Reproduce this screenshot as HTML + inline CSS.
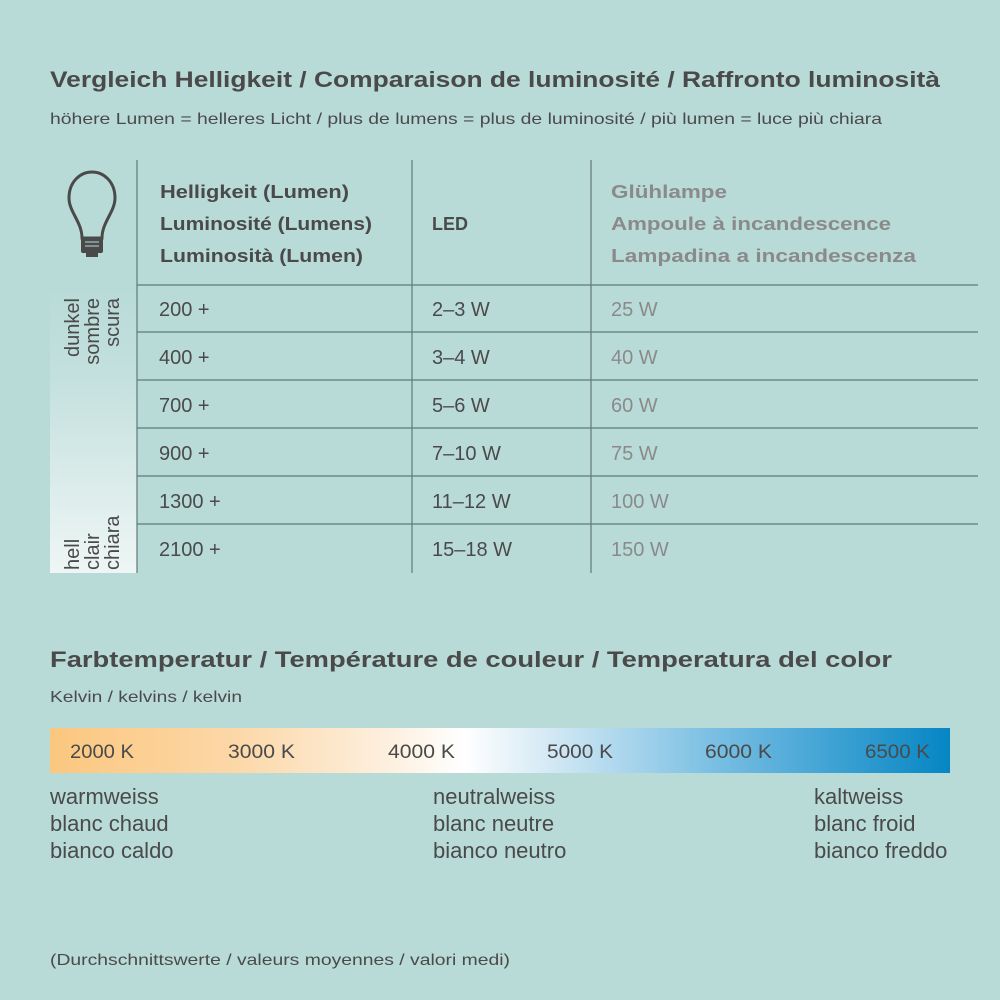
<!DOCTYPE html>
<html><head><meta charset="utf-8"><style>
html,body{margin:0;padding:0;background:#b9dbd8;}
svg{display:block;font-family:"Liberation Sans",sans-serif;}
</style></head><body>
<svg width="1000" height="1000" viewBox="0 0 1000 1000" xmlns="http://www.w3.org/2000/svg">
<defs>
<linearGradient id="lg" x1="0" y1="0" x2="0" y2="1">
<stop offset="0" stop-color="#b9dbd8"/><stop offset="0.3" stop-color="#c3e0dd"/><stop offset="1" stop-color="#eef6f5"/>
</linearGradient>
<linearGradient id="kg" x1="0" y1="0" x2="1" y2="0">
<stop offset="0" stop-color="#fbc77f"/><stop offset="0.2" stop-color="#fcd7a6"/><stop offset="0.38" stop-color="#fdf0e0"/><stop offset="0.46" stop-color="#ffffff"/><stop offset="0.55" stop-color="#d6eaf5"/><stop offset="0.75" stop-color="#74bce2"/><stop offset="1" stop-color="#0586c4"/>
</linearGradient>
</defs>
<rect width="1000" height="1000" fill="#b9dbd8"/>
<g fill="#4a4a4a">
<text x="50" y="87" font-size="22" font-weight="bold" textLength="890" lengthAdjust="spacingAndGlyphs">Vergleich Helligkeit / Comparaison de luminosité / Raffronto luminosità</text>
<text x="50" y="124" font-size="16" textLength="832" lengthAdjust="spacingAndGlyphs">höhere Lumen = helleres Licht / plus de lumens = plus de luminosité / più lumen = luce più chiara</text>
</g>
<rect x="50" y="290" width="87" height="283" fill="url(#lg)"/>
<g stroke="#5f7a7a" stroke-width="1.2">
<line x1="137" y1="160" x2="137" y2="573"/>
<line x1="412" y1="160" x2="412" y2="573"/>
<line x1="591" y1="160" x2="591" y2="573"/>
<line x1="137" y1="285" x2="978" y2="285"/>
<line x1="137" y1="332" x2="978" y2="332"/>
<line x1="137" y1="380" x2="978" y2="380"/>
<line x1="137" y1="428" x2="978" y2="428"/>
<line x1="137" y1="476" x2="978" y2="476"/>
<line x1="137" y1="524" x2="978" y2="524"/>
</g>
<g fill="none" stroke="#4a4a4a" stroke-width="3">
<path d="M82,238 C82,222 69,212 69,198 C69,182 80,172 92,172 C104,172 115,182 115,198 C115,212 102,222 102,238 Z"/>
</g>
<rect x="81" y="237" width="22" height="16" rx="2" fill="#4a4a4a"/>
<rect x="86" y="253" width="12" height="4" fill="#4a4a4a"/>
<g stroke="#b9dbd8" stroke-width="1"><line x1="85" y1="242" x2="99" y2="242"/><line x1="85" y1="246" x2="99" y2="246"/></g>
<g fill="#4a4a4a" font-size="18" font-weight="bold">
<text x="160" y="198" textLength="189" lengthAdjust="spacingAndGlyphs">Helligkeit (Lumen)</text>
<text x="160" y="230" textLength="212" lengthAdjust="spacingAndGlyphs">Luminosité (Lumens)</text>
<text x="160" y="262" textLength="203" lengthAdjust="spacingAndGlyphs">Luminosità (Lumen)</text>
<text x="432" y="230" textLength="36" lengthAdjust="spacingAndGlyphs">LED</text>
</g>
<g fill="#8a8a8a" font-size="18" font-weight="bold">
<text x="611" y="198" textLength="116" lengthAdjust="spacingAndGlyphs">Glühlampe</text>
<text x="611" y="230" textLength="280" lengthAdjust="spacingAndGlyphs">Ampoule à incandescence</text>
<text x="611" y="262" textLength="305" lengthAdjust="spacingAndGlyphs">Lampadina a incandescenza</text>
</g>
<g fill="#4a4a4a" font-size="20">
<text x="159" y="316">200 +</text><text x="432" y="316">2–3 W</text>
<text x="159" y="364">400 +</text><text x="432" y="364">3–4 W</text>
<text x="159" y="412">700 +</text><text x="432" y="412">5–6 W</text>
<text x="159" y="460">900 +</text><text x="432" y="460">7–10 W</text>
<text x="159" y="508">1300 +</text><text x="432" y="508">11–12 W</text>
<text x="159" y="556">2100 +</text><text x="432" y="556">15–18 W</text>
</g>
<g fill="#8a8a8a" font-size="20">
<text x="611" y="316">25 W</text><text x="611" y="364">40 W</text><text x="611" y="412">60 W</text>
<text x="611" y="460">75 W</text><text x="611" y="508">100 W</text><text x="611" y="556">150 W</text>
</g>
<g fill="#4a4a4a" font-size="20">
<text transform="translate(79,298) rotate(-90)" text-anchor="end">dunkel</text>
<text transform="translate(99,298) rotate(-90)" text-anchor="end">sombre</text>
<text transform="translate(119,298) rotate(-90)" text-anchor="end">scura</text>
<text transform="translate(79,570) rotate(-90)">hell</text>
<text transform="translate(99,570) rotate(-90)">clair</text>
<text transform="translate(119,570) rotate(-90)">chiara</text>
</g>
<g fill="#4a4a4a">
<text x="50" y="667" font-size="22" font-weight="bold" textLength="842" lengthAdjust="spacingAndGlyphs">Farbtemperatur / Température de couleur / Temperatura del color</text>
<text x="50" y="702" font-size="16" textLength="192" lengthAdjust="spacingAndGlyphs">Kelvin / kelvins / kelvin</text>
</g>
<rect x="50" y="728" width="900" height="45" fill="url(#kg)"/>
<g fill="#4a4a4a" font-size="19">
<text x="70" y="758" textLength="64" lengthAdjust="spacingAndGlyphs">2000 K</text>
<text x="228" y="758" textLength="67" lengthAdjust="spacingAndGlyphs">3000 K</text>
<text x="388" y="758" textLength="67" lengthAdjust="spacingAndGlyphs">4000 K</text>
<text x="547" y="758" textLength="66" lengthAdjust="spacingAndGlyphs">5000 K</text>
<text x="705" y="758" textLength="67" lengthAdjust="spacingAndGlyphs">6000 K</text>
<text x="865" y="758" textLength="65" lengthAdjust="spacingAndGlyphs">6500 K</text>
</g>
<g fill="#4a4a4a" font-size="22">
<text x="50" y="804">warmweiss</text><text x="50" y="831">blanc chaud</text><text x="50" y="858">bianco caldo</text>
<text x="433" y="804">neutralweiss</text><text x="433" y="831">blanc neutre</text><text x="433" y="858">bianco neutro</text>
<text x="814" y="804">kaltweiss</text><text x="814" y="831">blanc froid</text><text x="814" y="858">bianco freddo</text>
</g>
<text x="50" y="965" fill="#4a4a4a" font-size="16" textLength="460" lengthAdjust="spacingAndGlyphs">(Durchschnittswerte / valeurs moyennes / valori medi)</text>
</svg>
</body></html>
